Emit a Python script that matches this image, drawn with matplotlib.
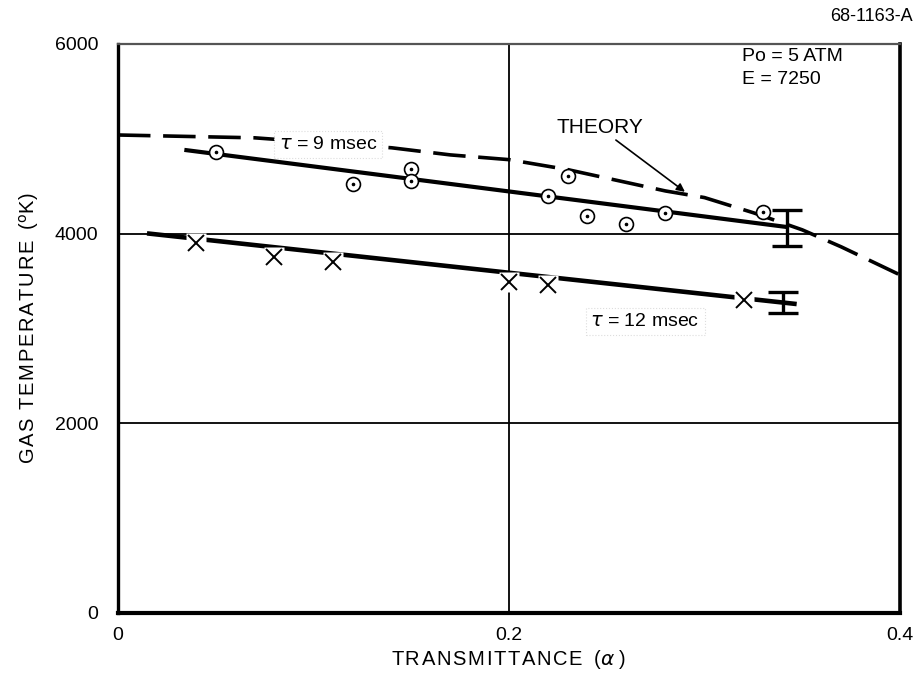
import matplotlib
matplotlib.use("Agg")
import matplotlib.pyplot as plt
import numpy as np

# measured gas temperature vs transmittance, tau = 9 msec (circles)
alpha_9 = [0.05, 0.12, 0.15, 0.15, 0.22, 0.23, 0.24, 0.26, 0.28, 0.33]
temp_9 = [4860, 4525, 4685, 4560, 4400, 4610, 4190, 4100, 4220, 4230]
fit_9_x = [0.035, 0.342]
fit_9_y = [4880, 4070]

# tau = 12 msec (crosses)
alpha_12 = [0.04, 0.08, 0.11, 0.20, 0.22, 0.32]
temp_12 = [3900, 3750, 3700, 3490, 3460, 3300]
fit_12_x = [0.016, 0.346]
fit_12_y = [4000, 3260]

# theory curve
theory_x = [0.0, 0.07, 0.14, 0.17, 0.20, 0.23, 0.26, 0.28, 0.30, 0.325, 0.35, 0.37, 0.40]
theory_y = [5040, 5010, 4905, 4830, 4780, 4675, 4540, 4450, 4380, 4220, 4040, 3860, 3565]

# error bars at the end of each fit
err_x = [0.342, 0.340]
err_y = [4060, 3275]
err_dy = [190, 110]

xticks = [0.0, 0.2, 0.4]
xtick_labels = ["0", "0.2", "0.4"]
yticks = [0, 2000, 4000, 6000]


def spaced(s):
    # open up the lettering of the axis titles a little
    return "\u200a".join(s)


plt.rcParams["font.family"] = ["Liberation Sans", "DejaVu Sans"]

fig = plt.figure(figsize=(9.16, 6.75), dpi=100)
ax = fig.add_axes([0.1288, 0.0919, 0.8537, 0.843])
ax.set_xlim(0, 0.4)
ax.set_ylim(0, 6000)

# reference lines
for yv in (2000, 4000):
    ax.axhline(yv, color="black", lw=1.3, zorder=1)
ax.axvline(0.2, color="black", lw=1.3, zorder=1)

ax.plot(theory_x, theory_y, color="black", lw=2.6, dashes=(9, 3.5),
        solid_capstyle="butt", zorder=2)
ax.plot(fit_9_x, fit_9_y, color="black", lw=3.0, zorder=3)
ax.plot(fit_12_x, fit_12_y, color="black", lw=3.3, zorder=3)

ax.errorbar(err_x, err_y, yerr=err_dy, fmt="none", ecolor="black",
            elinewidth=2.4, capsize=11, capthick=2.4, zorder=4)

# circles with a centre dot, crosses on a white patch so the line breaks
ax.plot(alpha_9, temp_9, ls="none", marker="o", ms=10, mfc="white",
        mec="black", mew=1.2, zorder=5)
ax.plot(alpha_9, temp_9, ls="none", marker="o", ms=1.6, mfc="black",
        mec="black", zorder=6)
ax.plot(alpha_12, temp_12, ls="none", marker="s", ms=15, mfc="white",
        mec="none", zorder=5)
ax.plot(alpha_12, temp_12, ls="none", marker="x", ms=11, mec="black",
        mew=1.4, zorder=6)

box = dict(boxstyle="square,pad=0.25", fc="white", ec="#dddddd", lw=0.8, ls=":")
ax.text(0.1074, 4937, r"$\tau$ = 9 msec", fontsize=14, ha="center",
        va="center", bbox=box, zorder=7)
ax.text(0.2696, 3070, r"$\tau$ = 12 msec", fontsize=14, ha="center",
        va="center", bbox=box, zorder=7)

ax.annotate("THEORY", xy=(0.29, 4441), xytext=(0.2685, 5116),
            fontsize=15, ha="right", va="center",
            arrowprops=dict(arrowstyle="-|>", color="black", lw=1.2,
                            mutation_scale=12, shrinkA=0, shrinkB=0),
            zorder=7)

ax.text(0.3193, 5865, "Po = 5 ATM", fontsize=14, ha="left", va="center")
ax.text(0.3193, 5622, "E = 7250", fontsize=14, ha="left", va="center")

fig.text(0.996, 0.975, "68-1163-A", fontsize=13, ha="right", va="center")

# frame
for side, w in (("left", 2.4), ("bottom", 3.0), ("right", 2.6)):
    ax.spines[side].set_linewidth(w)
ax.spines["top"].set_linewidth(1.6)
ax.spines["top"].set_color("#555555")

ax.set_xticks(xticks)
ax.set_xticklabels(xtick_labels, fontsize=14)
ax.set_yticks(yticks)
ax.set_yticklabels([str(v) for v in yticks], fontsize=14)
ax.tick_params(length=0, pad=14)
ax.tick_params(axis="x", pad=10)

ax.set_xlabel(spaced("TRANSMITTANCE") + r"  ($\alpha$ )", fontsize=14.5,
              labelpad=3)
ax.set_ylabel(spaced("GAS TEMPERATURE") + r"  ($^{\rm o}$K)", fontsize=14.5,
              labelpad=10)

fig.savefig("out.png", dpi=100)
